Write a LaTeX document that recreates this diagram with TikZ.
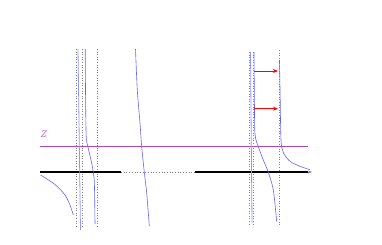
\documentclass[tikz,border=0pt]{standalone}
\usetikzlibrary{arrows.meta}
\definecolor{curveblue}{RGB}{100,100,245}
\definecolor{lineblue}{RGB}{150,150,250}
\definecolor{zpurple}{RGB}{175,70,190}
\tikzset{
  pole/.style={gray, dotted, line width=0.6pt},
  redpole/.style={red!70, dotted, line width=0.6pt},
  branch/.style={curveblue, line width=0.6pt},
  straightbranch/.style={lineblue, line width=0.8pt},
  axisline/.style={black, line width=1.1pt},
  gapline/.style={gray, dotted, line width=0.7pt},
  zline/.style={zpurple, line width=0.6pt},
  shiftarrow/.style={red, line width=0.9pt, -{Stealth[length=5pt,width=4pt]}},
}
\begin{document}
\begin{tikzpicture}[x=1pt,y=-1pt]
\useasboundingbox (0,0) rectangle (382,244);
% coordinates
\coordinate (p1t) at (76,49);   \coordinate (p1b) at (76,226);
\coordinate (p2t) at (82.5,49); \coordinate (p2b) at (82.5,226);
\coordinate (p3t) at (97.5,49); \coordinate (p3b) at (97.5,226);
\coordinate (p4t) at (249,52);  \coordinate (p4b) at (249,226);
\coordinate (p5t) at (253.5,52);\coordinate (p5b) at (253.5,226);
\coordinate (p6t) at (279.3,50);\coordinate (p6b) at (279.3,226);
\coordinate (zl) at (40,146);   \coordinate (zr) at (308,146);
\coordinate (a0) at (40,172);   \coordinate (a1) at (121,172);
\coordinate (a2) at (195,172);  \coordinate (a3) at (308,172);
\coordinate (a4) at (312,172);
\coordinate (r1s) at (254,71);  \coordinate (r1e) at (278,71);
\coordinate (r2s) at (254,108.7); \coordinate (r2e) at (278,108.7);
% poles
\draw[pole] (p1t) -- (p1b);
\draw[pole] (p2t) -- (p2b);
\draw[pole] (p3t) -- (p3b);
\draw[pole] (p4t) -- (p4b);
\draw[pole] (p5t) -- (p5b);
\draw[redpole] (p6t) -- (p6b);
% horizontal lines
\draw[zline] (zl) -- (zr);
\node[text=zpurple, font=\normalsize\itshape, anchor=south west, inner sep=0pt] (zlab) at (40,137.5) {Z};
\draw[axisline] (a0) -- (a1);
\draw[gapline] (a1) -- (a2);
\draw[axisline] (a2) -- (a3);
\draw[gray, line width=0.6pt, -{Stealth[length=4pt,width=3pt]}] (a3) -- (a4);
% branches left
\draw[branch] plot[smooth] coordinates {(40.5,175) (55,184.5) (65,195) (70,205) (73.3,215)};
\draw[straightbranch] (78,49) -- (80.5,230);
\draw[branch] plot[smooth] coordinates {(85.2,49) (85.6,100) (86.2,136) (87.7,146) (91,160) (93.3,172.3) (94.4,184) (95,224)};
\draw[branch] plot[smooth] coordinates {(135.5,49) (137.3,90) (140,123) (141.7,146.7) (144.3,172.3) (146.7,193) (149.3,226)};
% branches right
\draw[straightbranch] (250.5,52) -- (252,223);
\draw[branch] plot[smooth] coordinates {(254,52) (254.4,100) (255,134) (258.3,146.7) (263.3,160) (268.3,172.3) (273.3,190) (276.7,221.7)};
\draw[branch] plot[smooth] coordinates {(279.5,60.7) (280.2,100) (281,140) (283.3,152.5) (290,161.3) (300,166.3) (310,169.7)};
% shift arrows
\draw[shiftarrow] (r1s) -- (r1e);
\draw[shiftarrow] (r2s) -- (r2e);
\end{tikzpicture}
\end{document}
